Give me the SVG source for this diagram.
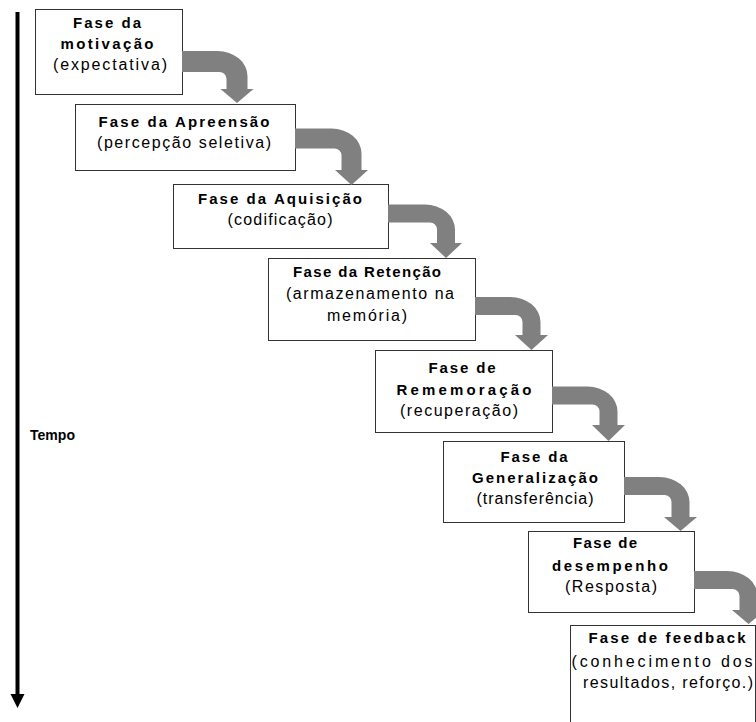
<svg xmlns="http://www.w3.org/2000/svg" width="756" height="722" viewBox="0 0 756 722">
  <style>
    .box { fill: #ffffff; stroke: #333333; stroke-width: 1; }
    .flow { fill: #808080; stroke: none; }
    text { font-family: "Liberation Sans", Arial, sans-serif; font-size: 16px; fill: #000000; text-anchor: middle; }
    .t { font-weight: bold; font-size: 15px; }
    .axis { stroke: #000000; stroke-width: 4; fill: none; }
  </style>

  <!-- time axis -->
  <g id="time-axis">
    <line class="axis" x1="17.5" y1="12" x2="17.5" y2="694"/>
    <path d="M10.5 694 L24.5 694 L17.5 708 Z" fill="#000000"/>
    <text class="t" x="30" y="440" style="text-anchor:start; font-size:14.5px" textLength="45" lengthAdjust="spacingAndGlyphs">Tempo</text>
  </g>

  <!-- phase boxes -->
  <g id="fase-motivacao">
    <rect class="box" x="35.5" y="9.5" width="147" height="85"/>
    <text class="t" x="107" y="28" textLength="68">Fase da</text>
    <text class="t" x="107" y="49" textLength="93">motivação</text>
    <text x="110" y="70" textLength="114">(expectativa)</text>
  </g>
  <g id="fase-apreensao">
    <rect class="box" x="75.5" y="104.5" width="220" height="66"/>
    <text class="t" x="184" y="127" textLength="171">Fase da Apreensão</text>
    <text x="184" y="148" textLength="174">(percepção seletiva)</text>
  </g>
  <g id="fase-aquisicao">
    <rect class="box" x="173.5" y="184.5" width="215" height="64"/>
    <text class="t" x="280" y="204" textLength="164">Fase da Aquisição</text>
    <text x="280" y="225" textLength="105">(codificação)</text>
  </g>
  <g id="fase-retencao">
    <rect class="box" x="268.5" y="258.5" width="207" height="82"/>
    <text class="t" x="367" y="277" textLength="148">Fase da Retenção</text>
    <text x="370" y="299" textLength="168">(armazenamento na</text>
    <text x="367" y="321" textLength="80">memória)</text>
  </g>
  <g id="fase-rememoracao">
    <rect class="box" x="375.5" y="350.5" width="177" height="82"/>
    <text class="t" x="462" y="373" textLength="67">Fase de</text>
    <text class="t" x="464" y="395" textLength="135">Rememoração</text>
    <text x="459" y="416" textLength="118">(recuperação)</text>
  </g>
  <g id="fase-generalizacao">
    <rect class="box" x="443.5" y="441.5" width="181" height="81"/>
    <text class="t" x="534" y="462" textLength="67">Fase da</text>
    <text class="t" x="535" y="483" textLength="126">Generalização</text>
    <text x="535" y="504" textLength="117">(transferência)</text>
  </g>
  <g id="fase-desempenho">
    <rect class="box" x="528.5" y="531.5" width="166" height="81"/>
    <text class="t" x="605" y="548" textLength="64">Fase de</text>
    <text class="t" x="610" y="571" textLength="116">desempenho</text>
    <text x="611" y="592" textLength="92">(Resposta)</text>
  </g>
  <g id="fase-feedback">
    <rect class="box" x="570.5" y="625.5" width="185" height="110"/>
    <text class="t" x="667" y="643" textLength="157">Fase de feedback</text>
    <text x="662" y="667" textLength="181">(conhecimento dos</text>
    <text x="668" y="688" textLength="170">resultados, reforço.)</text>
  </g>

  <!-- curved flow arrows between phases -->
  <g id="connectors">
    <path class="flow" d="M182 51 H217.5 A30 25 0 0 1 247.5 76 V89 H253.5 L237 103 L220.5 89 H226.5 V79 A7 7 0 0 0 219.5 72 H182 Z"/>
    <path class="flow" d="M295 128.5 H331.5 A30 25 0 0 1 361.5 153.5 V170 H368 L351.5 185 L335 170 H341.5 V155.5 A7 7 0 0 0 334.5 148.5 H295 Z"/>
    <path class="flow" d="M388 204.5 H425 A30 25 0 0 1 455 229.5 V243 H462 L446 258 L430 243 H437 V229.5 A7 7 0 0 0 430 222.5 H388 Z"/>
    <path class="flow" d="M475 297 H510.5 A30 25 0 0 1 540.5 322 V335 H548 L531.5 350 L515 335 H522.5 V322 A7 7 0 0 0 515.5 315 H475 Z"/>
    <path class="flow" d="M552 386.5 H587.5 A30 25 0 0 1 617.5 411.5 V425 H625 L608.5 441 L592 425 H599.5 V411.5 A7 7 0 0 0 592.5 404.5 H552 Z"/>
    <path class="flow" d="M624 477 H659.5 A30 25 0 0 1 689.5 502 V517 H697 L680.5 531 L664 517 H671.5 V502 A7 7 0 0 0 664.5 495 H624 Z"/>
    <path class="flow" d="M694 571 H727.5 A30 25 0 0 1 757.5 596 V610 H765 L748.5 624 L732 610 H739.5 V596 A7 7 0 0 0 732.5 589 H694 Z"/>
  </g>
</svg>
